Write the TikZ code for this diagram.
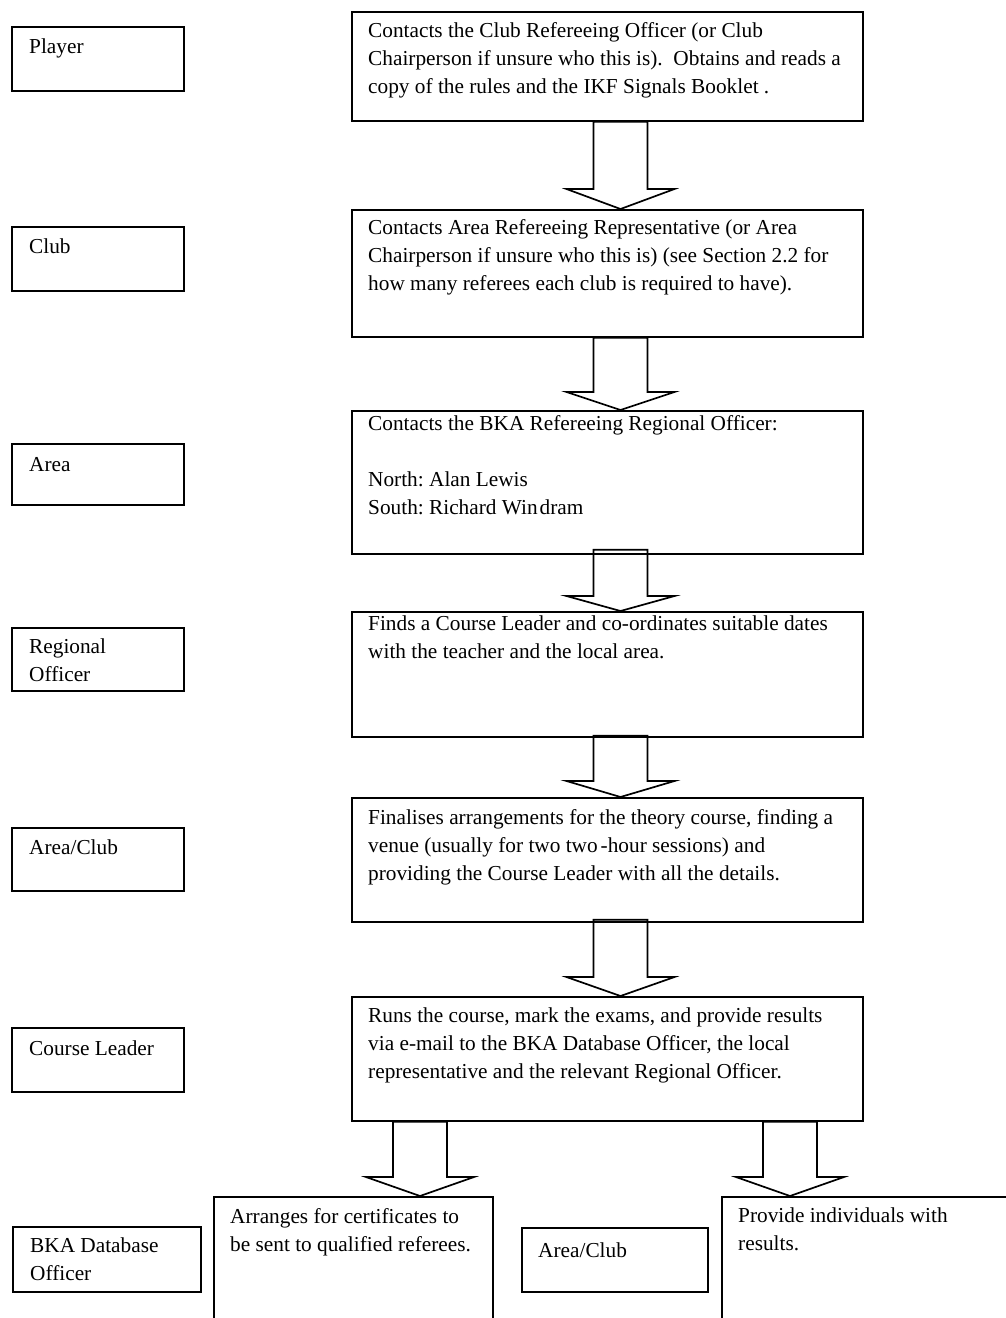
\documentclass[tikz,border=0pt]{standalone}
\usepackage{fontspec}
\setmainfont{Liberation Serif}
\usetikzlibrary{calc}
\frenchspacing
\tikzset{
  box/.style={draw, line width=1.7pt, inner sep=0pt, anchor=north west},
  txt/.style={anchor=north west, inner sep=0pt, align=left, font=\fontsize{21.3}{28}\selectfont},
  blk/.style={draw, line width=1.7pt, line join=miter},
}
\newcommand\blockarrow[5]{% #1 centre, #2 from, #3 to, #4 shaft-top raise, #5 head length
  \draw[blk] ($(#1 |- #2.south)+(-27,-#4)$) -- ($(#1 |- #3.north)+(-27,-#5)$) -- ($(#1 |- #3.north)+(-54,-#5)$) -- (#1 |- #3.north) -- ($(#1 |- #3.north)+(54,-#5)$) -- ($(#1 |- #3.north)+(27,-#5)$) -- ($(#1 |- #2.south)+(27,-#4)$) -- cycle;}
\begin{document}
\begin{tikzpicture}[x=1pt,y=-1pt]
\useasboundingbox (0,0) rectangle (1006,1318);
\clip (0,0) rectangle (1006,1318);
% left role boxes
\node[box, minimum width=172pt, minimum height=64pt] (lPlayer) at (11,26) {};
\node[box, minimum width=172pt, minimum height=64pt] (lClub) at (11,226) {};
\node[box, minimum width=172pt, minimum height=61pt] (lArea) at (11,443) {};
\node[box, minimum width=172pt, minimum height=63pt] (lReg) at (11,627) {};
\node[box, minimum width=172pt, minimum height=63pt] (lAC) at (11,827) {};
\node[box, minimum width=172pt, minimum height=64pt] (lCL) at (11,1027) {};
\node[box, minimum width=188pt, minimum height=65pt] (lBKA) at (12,1226) {};
\node[box, minimum width=186pt, minimum height=64pt] (lAC2) at (521,1227) {};
\node[txt] (tPlayer) at ($(lPlayer.north west)+(18,13)$) {Player};
\node[txt] (tClub) at ($(lClub.north west)+(18,13)$) {Club};
\node[txt] (tArea) at ($(lArea.north west)+(18,14)$) {Area};
\node[txt] (tReg) at ($(lReg.north west)+(18,12)$) {Regional\\Officer};
\node[txt] (tAC) at ($(lAC.north west)+(18,13)$) {Area/Club};
\node[txt] (tCL) at ($(lCL.north west)+(18,14)$) {Course Leader};
\node[txt] (tBKA) at ($(lBKA.north west)+(18,12)$) {BKA Database\\Officer};
\node[txt] (tAC2) at ($(lAC2.north west)+(17,16)$) {Area/Club};
% process boxes
\node[box, minimum width=511pt, minimum height=109pt] (b1) at (351,11) {};
\node[box, minimum width=511pt, minimum height=127pt] (b2) at (351,209) {};
\node[box, minimum width=511pt, minimum height=143pt] (b3) at (351,410) {};
\node[box, minimum width=511pt, minimum height=125pt] (b4) at (351,611) {};
\node[box, minimum width=511pt, minimum height=124pt] (b5) at (351,797) {};
\node[box, minimum width=511pt, minimum height=124pt] (b6) at (351,996) {};
\node[box, minimum width=279pt, minimum height=160pt] (bl) at (213,1196) {};
\node[box, minimum width=320pt, minimum height=160pt] (br) at (721,1196) {};
\node[txt] (t1) at ($(b1.north west)+(17,11)$) {Contacts the Club Refereeing Officer (or Club\\Chairperson if unsure who this is).\ \ Obtains and reads a\\copy of the rules and the IKF Signals Booklet .};
\node[txt] (t2) at ($(b2.north west)+(17,10)$) {Contacts Area Refereeing Representative (or Area\\Chairperson if unsure who this is) (see Section 2.2 for\\how many referees each club is required to have).};
\node[txt] (t3) at ($(b3.north west)+(17,5)$) {Contacts the BKA Refereeing Regional Officer:\\[28pt]North: Alan Lewis\\South: Richard Win\kern2pt dram};
\node[txt] (t4) at ($(b4.north west)+(17,5)$) {Finds a Course Leader and co-ordinates suitable dates\\with the teacher and the local area.};
\node[txt] (t5) at ($(b5.north west)+(17,12)$) {Finalises arrangements for the theory course, finding a\\venue (usually for two two\kern3pt-hour sessions) and\\providing the Course Leader with all the details.};
\node[txt] (t6) at ($(b6.north west)+(17,12)$) {Runs the course, mark the exams, and provide results\\via e-mail to the BKA Database Officer, the local\\representative and the relevant Regional Officer.};
\node[txt] (tl) at ($(bl.north west)+(17,12)$) {Arranges for certificates to\\be sent to qualified referees.};
\node[txt] (tr) at ($(br.north west)+(17,12)$) {Provide individuals with\\results.};
% block arrows
\coordinate (ac) at (620.5,0);
\coordinate (al) at (420,0);
\coordinate (ar) at (790,0);
\blockarrow{ac}{b1}{b2}{0}{20}
\blockarrow{ac}{b2}{b3}{0}{18}
\blockarrow{ac}{b3}{b4}{5}{15}
\blockarrow{ac}{b4}{b5}{2}{16}
\blockarrow{ac}{b5}{b6}{3}{19}
\blockarrow{al}{b6}{bl}{0}{19}
\blockarrow{ar}{b6}{br}{0}{19}
\end{tikzpicture}
\end{document}
